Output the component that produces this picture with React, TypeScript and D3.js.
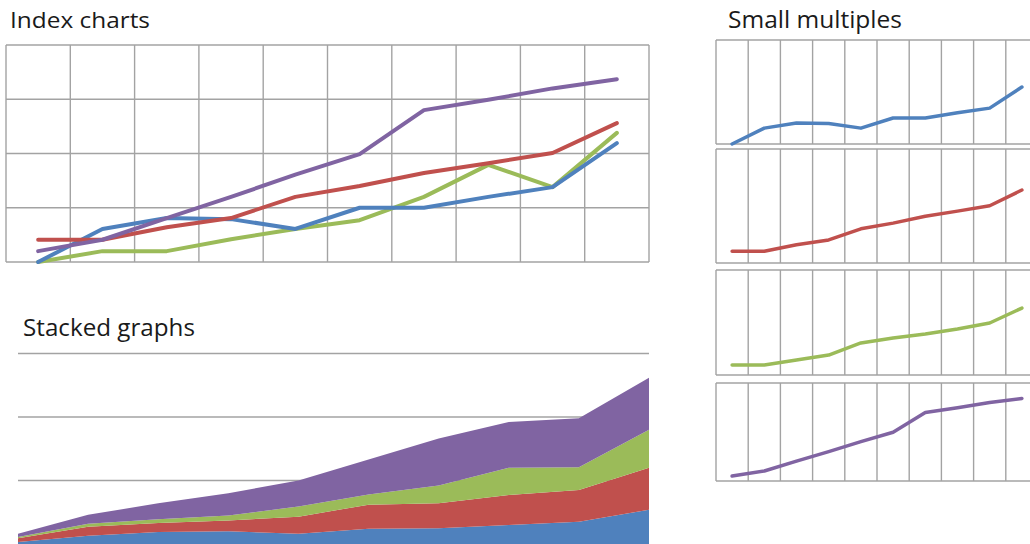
import React from 'react';
import * as d3 from 'd3';

// Ten periods shared by every panel
const periods = ['P1', 'P2', 'P3', 'P4', 'P5', 'P6', 'P7', 'P8', 'P9', 'P10'];

// Indexed series (index chart + small multiples)
const indexBlue = [0, 0.61, 0.81, 0.79, 0.61, 1.0, 1.0, 1.2, 1.38, 2.19];
const indexRed = [0.41, 0.41, 0.64, 0.81, 1.2, 1.4, 1.64, 1.82, 2.01, 2.56];
const indexGreen = [0, 0.2, 0.2, 0.42, 0.61, 0.77, 1.2, 1.79, 1.38, 2.38];
const indexPurple = [0.2, 0.41, 0.81, 1.2, 1.61, 1.99, 2.8, 2.99, 3.2, 3.37];
const multipleGreen = [0.38, 0.38, 0.57, 0.76, 1.22, 1.41, 1.56, 1.75, 1.98, 2.55];
const indexTicks = [0, 1, 2, 3, 4];

// Raw series for the stacked area chart
const stackBlue = [3, 13, 19, 20, 16, 24, 25, 30, 35, 54];
const stackRed = [6, 14, 14, 17, 27, 38, 39, 47, 50, 66];
const stackGreen = [2, 5, 6, 8, 16, 16, 28, 43, 36, 60];
const stackPurple = [5, 14, 25, 35, 41, 55, 74, 72, 77, 82];
const stackTicks = [100, 200, 300];

const BLUE = '#4f81bd';
const RED = '#c0504d';
const GREEN = '#9bbb59';
const PURPLE = '#8064a2';
const GRID = '#a3a3a3';
const FONT = '"Open Sans", "Liberation Sans", sans-serif';

function IndexChart() {
  const x = d3.scaleBand<string>().domain(periods).range([6, 649]).padding(0);
  const y = d3.scaleLinear().domain([0, 4]).range([262, 45]);
  const line = d3
    .line<number>()
    .x((_, i) => (x(periods[i]) as number) + x.bandwidth() / 2)
    .y((d) => y(d));
  const series = [
    { values: indexGreen, color: GREEN },
    { values: indexBlue, color: BLUE },
    { values: indexRed, color: RED },
    { values: indexPurple, color: PURPLE },
  ];
  const edges = [...periods.map((p) => x(p) as number), x.range()[1]];
  return (
    <g>
      {indexTicks.map((t) => (
        <line key={'h' + t} x1={x.range()[0]} x2={x.range()[1]} y1={y(t)} y2={y(t)} stroke={GRID} strokeWidth={1.4} />
      ))}
      {edges.map((e, i) => (
        <line key={'v' + i} x1={e} x2={e} y1={y(0)} y2={y(4)} stroke={GRID} strokeWidth={1.4} />
      ))}
      {series.map((s, i) => (
        <path key={i} d={line(s.values) as string} fill="none" stroke={s.color} strokeWidth={4} strokeLinejoin="round" strokeLinecap="round" />
      ))}
    </g>
  );
}

function StackedChart() {
  const x = d3.scalePoint<string>().domain(periods).range([18, 649]);
  const y = d3.scaleLinear().domain([0, 300]).range([544, 353.5]);
  const rows = periods.map((p, i) => ({
    period: p,
    blue: stackBlue[i],
    red: stackRed[i],
    green: stackGreen[i],
    purple: stackPurple[i],
  }));
  const keys = ['blue', 'red', 'green', 'purple'];
  const colors: Record<string, string> = { blue: BLUE, red: RED, green: GREEN, purple: PURPLE };
  const layers = d3.stack<any>().keys(keys)(rows);
  const area = d3
    .area<any>()
    .x((d) => x(d.data.period) as number)
    .y0((d) => y(d[0]))
    .y1((d) => y(d[1]));
  return (
    <g>
      {stackTicks.map((t) => (
        <line key={t} x1={18} x2={649} y1={y(t)} y2={y(t)} stroke={GRID} strokeWidth={1.6} />
      ))}
      {layers.map((l) => (
        <path key={l.key} d={area(l) as string} fill={colors[l.key]} />
      ))}
    </g>
  );
}

const panels = [
  { values: indexBlue, color: BLUE, top: 40, bottom: 144 },
  { values: indexRed, color: RED, top: 149, bottom: 263 },
  { values: multipleGreen, color: GREEN, top: 270, bottom: 375 },
  { values: indexPurple, color: PURPLE, top: 383, bottom: 481 },
];

function SmallMultiples() {
  const x = d3.scaleBand<string>().domain(periods).range([716, 1038]).padding(0);
  const edges = [...periods.map((p) => x(p) as number), x.range()[1]];
  return (
    <g>
      {panels.map((p, k) => {
        const y = d3.scaleLinear().domain([0, 4]).range([p.bottom, p.top]);
        const line = d3
          .line<number>()
          .x((_, i) => (x(periods[i]) as number) + x.bandwidth() / 2)
          .y((d) => y(d));
        return (
          <g key={k}>
            <line x1={x.range()[0]} x2={x.range()[1]} y1={p.top} y2={p.top} stroke={GRID} strokeWidth={1.4} />
            <line x1={x.range()[0]} x2={x.range()[1]} y1={p.bottom} y2={p.bottom} stroke={GRID} strokeWidth={1.4} />
            {edges.map((e, i) => (
              <line key={i} x1={e} x2={e} y1={p.top} y2={p.bottom} stroke={GRID} strokeWidth={1.4} />
            ))}
            <path d={line(p.values) as string} fill="none" stroke={p.color} strokeWidth={3.5} strokeLinejoin="round" strokeLinecap="round" />
          </g>
        );
      })}
    </g>
  );
}

export default function App() {
  return (
    <svg
      width={1030}
      height={544}
      viewBox="0 0 1030 544"
      style={{ position: 'absolute', left: 0, top: 0, background: '#ffffff' }}
    >
      <rect x={0} y={0} width={1030} height={544} fill="#ffffff" />
      <text x={10} y={28} fontFamily={FONT} fontSize={22} fill="#1a1a1a" textLength={140} lengthAdjust="spacingAndGlyphs">
        Index charts
      </text>
      <text x={23} y={336} fontFamily={FONT} fontSize={23} fill="#1a1a1a" textLength={172} lengthAdjust="spacingAndGlyphs">
        Stacked graphs
      </text>
      <text x={728} y={27.5} fontFamily={FONT} fontSize={23} fill="#1a1a1a" textLength={174} lengthAdjust="spacingAndGlyphs">
        Small multiples
      </text>
      <IndexChart />
      <StackedChart />
      <SmallMultiples />
    </svg>
  );
}
